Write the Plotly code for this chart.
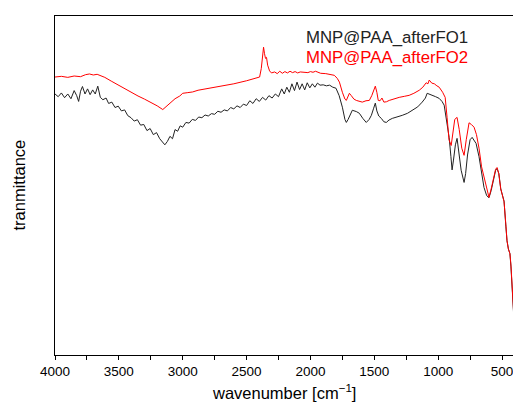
import plotly.graph_objects as go

# MNP@PAA_afterFO1 (black)
wn_fo1 = [4000, 3975, 3950, 3925, 3900, 3875, 3850, 3830, 3815, 3800, 3785, 3765, 3745, 3725, 3705, 3685,
          3665, 3645, 3625, 3600, 3580, 3555, 3530, 3505, 3480, 3455, 3430, 3405, 3380, 3355, 3330, 3305,
          3280, 3255, 3230, 3205, 3180, 3160, 3140, 3120, 3100, 3080, 3060, 3040, 3020, 3000, 2975, 2950,
          2925, 2900, 2875, 2850, 2825, 2800, 2775, 2750, 2725, 2700, 2675, 2650, 2625, 2600, 2575, 2550,
          2525, 2500, 2475, 2450, 2425, 2400, 2375, 2350, 2325, 2300, 2275, 2250, 2225, 2205, 2185, 2165,
          2145, 2125, 2105, 2085, 2065, 2045, 2025, 2005, 1985, 1965, 1945, 1925, 1900, 1875, 1850, 1825,
          1800, 1775, 1750, 1730, 1719, 1705, 1695, 1672, 1640, 1617, 1590, 1563, 1540, 1523, 1505, 1492,
          1480, 1465, 1445, 1425, 1406, 1385, 1359, 1320, 1281, 1240, 1203, 1160, 1125, 1100, 1086, 1070,
          1050, 1020, 992, 970, 953, 930, 914, 900, 891, 880, 865, 852, 840, 820, 797, 785,
          770, 750, 734, 715, 703, 680, 660, 641, 620, 602, 585, 565, 550, 539, 525, 510,
          484, 470, 461, 450, 438, 430, 422, 410, 400]
t_fo1 = [77.0, 76.2, 77.3, 75.9, 77.0, 75.6, 78.0, 76.5, 74.8, 77.8, 79.2, 77.0, 78.5, 76.8, 78.2, 77.0,
         79.3, 76.0, 75.3, 75.8, 74.2, 74.6, 73.0, 73.4, 72.0, 72.3, 70.6, 70.0, 69.0, 69.4, 67.8, 68.0,
         66.2, 66.8, 65.0, 65.6, 63.8, 62.8, 62.0, 63.0, 64.5, 63.8, 66.5, 66.0, 67.6, 67.2, 68.6, 68.4,
         69.5, 69.2, 70.2, 70.0, 70.8, 70.5, 71.2, 71.0, 71.9, 71.6, 72.3, 72.0, 73.0, 72.6, 73.5, 73.0,
         74.0, 73.6, 75.0, 74.2, 75.6, 74.8, 76.0, 75.2, 76.5, 75.8, 77.0, 76.2, 78.5, 77.0, 79.0, 77.5,
         80.0, 78.0, 80.5, 78.3, 80.0, 78.2, 80.3, 78.8, 80.0, 79.0, 80.2, 79.6, 79.7, 79.4, 79.6, 79.0,
         78.7, 76.5, 73.1, 69.5, 68.6, 69.5, 70.5, 72.2, 71.8, 71.3, 69.8, 68.6, 69.5, 70.7, 72.8, 74.3,
         72.0, 70.5, 69.8, 68.8, 68.6, 69.3, 69.8, 70.2, 70.7, 71.3, 72.2, 73.2, 74.6, 75.8, 77.2, 77.0,
         76.7, 76.2, 75.7, 74.8, 73.7, 68.5, 64.2, 58.5, 54.6, 57.5, 62.0, 63.9, 60.5, 54.5, 50.9, 53.5,
         59.0, 63.5, 64.2, 63.2, 62.4, 58.5, 53.5, 49.4, 47.0, 46.4, 48.5, 52.5, 54.5, 55.0, 53.5, 49.0,
         45.4, 38.0, 33.7, 31.3, 29.9, 26.0, 20.5, 12.0, 6.0]

# MNP@PAA_afterFO2 (red)
wn_fo2 = [4000, 3950, 3900, 3850, 3800, 3760, 3730, 3700, 3670, 3640, 3610, 3560, 3500, 3450, 3400, 3350,
          3300, 3250, 3200, 3156, 3130, 3100, 3060, 3023, 3000, 2960, 2922, 2880, 2800, 2700, 2600, 2500,
          2420, 2398, 2385, 2375, 2367, 2360, 2352, 2344, 2335, 2320, 2305, 2280, 2260, 2240, 2220, 2200,
          2180, 2160, 2140, 2120, 2100, 2080, 2060, 2040, 2020, 2000, 1980, 1960, 1945, 1920, 1880, 1850,
          1813, 1790, 1773, 1750, 1730, 1719, 1705, 1695, 1680, 1660, 1641, 1615, 1594, 1565, 1539, 1520,
          1505, 1492, 1480, 1469, 1455, 1440, 1425, 1405, 1383, 1345, 1305, 1265, 1227, 1190, 1148, 1120,
          1100, 1094, 1080, 1070, 1050, 1030, 1010, 992, 965, 945, 930, 915, 898, 885, 870, 852,
          835, 815, 797, 780, 765, 758, 740, 719, 700, 680, 660, 641, 620, 602, 585, 565,
          550, 539, 525, 510, 484, 470, 461, 450, 438, 430, 422, 410, 400]
t_fo2 = [82.0, 82.2, 81.9, 82.3, 82.1, 82.7, 82.9, 82.6, 82.8, 82.3, 81.9, 80.8, 79.5, 78.6, 77.3, 76.4,
         75.5, 74.6, 73.5, 72.4, 73.2, 74.4, 75.6, 76.4, 77.2, 77.4, 77.6, 78.1, 78.6, 79.3, 80.0, 80.9,
         81.6, 82.0, 84.5, 88.5, 90.8, 89.0, 87.5, 87.8, 85.5, 83.8, 83.2, 83.5, 83.0, 83.7, 83.1, 83.6,
         83.2, 83.7, 83.3, 83.6, 83.2, 83.5, 83.4, 83.5, 83.3, 83.6, 83.4, 83.7, 83.4, 83.1, 83.0, 82.8,
         82.5, 81.6, 80.5, 77.5, 75.5, 75.1, 76.5, 77.2, 76.5, 75.5, 75.1, 74.8, 74.6, 75.0, 75.1, 76.5,
         78.0, 79.3, 77.5, 75.1, 75.0, 75.8, 74.6, 74.7, 75.1, 75.6, 76.0, 76.3, 76.6, 77.2, 78.1, 79.0,
         79.8, 80.3, 80.0, 81.1, 80.2, 80.0, 79.4, 79.0, 77.5, 76.0, 70.0, 63.5, 61.8, 65.5, 69.5, 70.1,
         66.5, 61.0, 58.9, 63.5, 67.5, 68.5, 68.0, 67.2, 65.0, 61.0, 55.5, 52.4, 48.5, 46.5, 49.0, 52.5,
         54.8, 55.3, 53.5, 49.0, 45.2, 38.5, 33.7, 31.2, 29.9, 26.5, 21.0, 12.5, 6.5]

x_ticks = [4000, 3500, 3000, 2500, 2000, 1500, 1000, 500]
series_names = ["MNP@PAA_afterFO1", "MNP@PAA_afterFO2"]
series_colors = ["#222222", "#ff0000"]

FONT = "Arial, Liberation Sans, sans-serif"

fig = go.Figure()
fig.add_trace(go.Scatter(x=wn_fo1, y=t_fo1, mode="lines", name=series_names[0],
                         line=dict(color=series_colors[0], width=1)))
fig.add_trace(go.Scatter(x=wn_fo2, y=t_fo2, mode="lines", name=series_names[1],
                         line=dict(color=series_colors[1], width=1)))

fig.update_layout(
    width=513, height=408,
    margin=dict(l=55, r=0, t=16, b=53, autoexpand=False),
    paper_bgcolor="white", plot_bgcolor="white",
    showlegend=False,
    font=dict(family=FONT, color="black"),
    xaxis=dict(
        range=[4000, 414], tickvals=x_ticks, ticktext=[str(v) for v in x_ticks],
        ticks="outside", ticklen=4, tickwidth=1, tickcolor="black",
        minor=dict(dtick=250, tick0=0, ticks="outside", ticklen=4, tickcolor="black", showgrid=False),
        showline=True, linecolor="black", linewidth=1.3, mirror=True,
        showgrid=False, zeroline=False, automargin=False,
        ticklabeloverflow="allow",
        tickfont=dict(size=13.5, family=FONT, color="black"),
    ),
    yaxis=dict(
        range=[0, 100], showticklabels=False, ticks="",
        showline=True, linecolor="black", linewidth=1.3,
        showgrid=False, zeroline=False, automargin=False,
    ),
    annotations=[
        dict(text="wavenumber [cm<sup>−1</sup>]", xref="paper", yref="paper",
             x=0.5, y=-0.109, xanchor="center", yanchor="middle", showarrow=False,
             font=dict(size=16.5, family=FONT, color="black")),
        dict(text="tranmittance", xref="paper", yref="paper",
             x=(18 - 55) / 458, y=0.5, xanchor="center", yanchor="middle", textangle=-90,
             showarrow=False, font=dict(size=16.5, family=FONT, color="black")),
        dict(text=series_names[0], xref="paper", yref="paper",
             x=(304 - 55) / 458, y=(355 - 37) / 339, xanchor="left", yanchor="middle",
             showarrow=False, font=dict(size=16.8, family=FONT, color=series_colors[0])),
        dict(text=series_names[1], xref="paper", yref="paper",
             x=(304 - 55) / 458, y=(355 - 58) / 339, xanchor="left", yanchor="middle",
             showarrow=False, font=dict(size=16.8, family=FONT, color=series_colors[1])),
    ],
)

fig.write_html(
    "out.html",
    config={"displayModeBar": False},
    post_script="document.body.style.margin='0';document.body.style.overflow='hidden';",
)
